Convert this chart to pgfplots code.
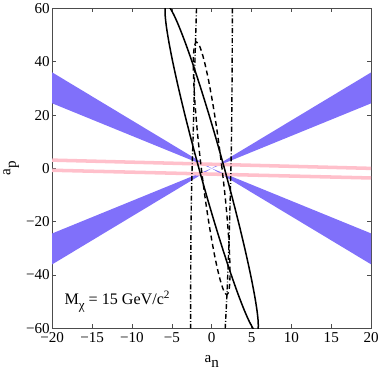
\documentclass[border=0pt]{standalone}
\usepackage{pgfplots}
\pgfplotsset{compat=1.18}
\usepackage{fontspec}
\setmainfont{Liberation Serif}
\definecolor{bandblue}{RGB}{128,112,250}
\definecolor{bandpink}{RGB}{255,192,203}

\begin{document}
\begin{tikzpicture}
\begin{axis}[
    scale only axis,
    width=317pt, height=318pt,
    xmin=-20, xmax=20,
    ymin=-60, ymax=60,
    xtick={-20,-15,...,20},
    ytick={-60,-40,...,60},
    xticklabels={−20,−15,−10,−5,0,5,10,15,20},
    yticklabels={−60,−40,−20,0,20,40,60},
    tick align=inside,
    major tick length=4pt,
    tick style={black!70, line width=0.6pt},
    axis line style={black!70, line width=0.8pt},
    tick label style={font=\fontsize{15}{17}\selectfont},
    xticklabel style={yshift=-1pt},
    yticklabel style={xshift=1pt},
    xlabel={a\raisebox{-0.8ex}{n}},
    ylabel={a\raisebox{-0.8ex}{p}},
    label style={font=\fontsize{15}{17}\selectfont},
    xlabel style={yshift=-5pt},
    ylabel style={yshift=0pt},
]
% blue wedges
\addplot[fill=bandblue, draw=none] coordinates {(0,0) (-20,24.4) (-20,36)} -- cycle;
\addplot[fill=bandblue, draw=none] coordinates {(0,0) (20,24.4) (20,36)} -- cycle;
\addplot[fill=bandblue, draw=none] coordinates {(0,0) (-20,-24.4) (-20,-36)} -- cycle;
\addplot[fill=bandblue, draw=none] coordinates {(0,0) (20,-24.4) (20,-36)} -- cycle;
% pink bands
\addplot[bandpink, line width=3.5pt] coordinates {(-20,3.1) (20,0)};
\addplot[bandpink, line width=3.5pt] coordinates {(-20,-0.7) (20,-3.6)};
% dash-dot contours
\addplot[black, line width=1.4pt, smooth, dash pattern=on 5pt off 2pt on 0.8pt off 2pt]
    coordinates {(-1.9,60) (-2.1,40) (-2.3,15) (-2.5,-5) (-2.6,-25) (-2.65,-60)};
\addplot[black, line width=1.4pt, smooth, dash pattern=on 5pt off 2pt on 0.8pt off 2pt]
    coordinates {(2.6,60) (2.55,30) (2.45,5) (2.2,-25) (1.95,-45) (1.7,-60)};
% dashed contour
\addplot[black, line width=1.4pt, smooth, dash pattern=on 5pt off 3.5pt] coordinates {
    (1.3,0) (0.764,12.27) (0.176,23.7) (-0.424,33.52) (-0.995,41.05) (-1.499,45.78)
    (-1.9,47.4) (-2.171,45.78) (-2.295,41.05) (-2.262,33.52) (-2.076,23.7) (-1.748,12.27)
    (-1.3,0) (-0.764,-12.27) (-0.176,-23.7) (0.424,-33.52) (0.995,-41.05) (1.499,-45.78)
    (1.9,-47.4) (2.171,-45.78) (2.295,-41.05) (2.262,-33.52) (2.076,-23.7) (1.748,-12.27)
    (1.3,0)};
% solid contour
\addplot[black, line width=1.5pt, smooth] coordinates {
    (1.6,0) (0.599,10.64) (-0.421,20.96) (-1.429,30.65) (-2.393,39.40) (-3.285,46.96)
    (-4.076,53.09) (-4.743,57.60) (-5.266,60.37) (-5.63,61.3) (-5.822,60.37) (-5.837,57.60)
    (-5.676,53.09) (-5.341,46.96) (-4.845,39.40) (-4.201,30.65) (-3.429,20.96) (-2.553,10.64)
    (-1.6,0) (-0.599,-10.64) (0.421,-20.96) (1.429,-30.65) (2.393,-39.40) (3.285,-46.96)
    (4.076,-53.09) (4.743,-57.60) (5.266,-60.37) (5.63,-61.3) (5.822,-60.37) (5.837,-57.60)
    (5.676,-53.09) (5.341,-46.96) (4.845,-39.40) (4.201,-30.65) (3.429,-20.96) (2.553,-10.64)
    (1.6,0)};
\node[anchor=west, font=\fontsize{16}{18}\selectfont] at (axis cs:-18.9,-50)
    {M\raisebox{-0.7ex}{\fontsize{13}{15}\selectfont χ} = 15 GeV/c\textsuperscript{2}};
\end{axis}
\end{tikzpicture}
\end{document}
